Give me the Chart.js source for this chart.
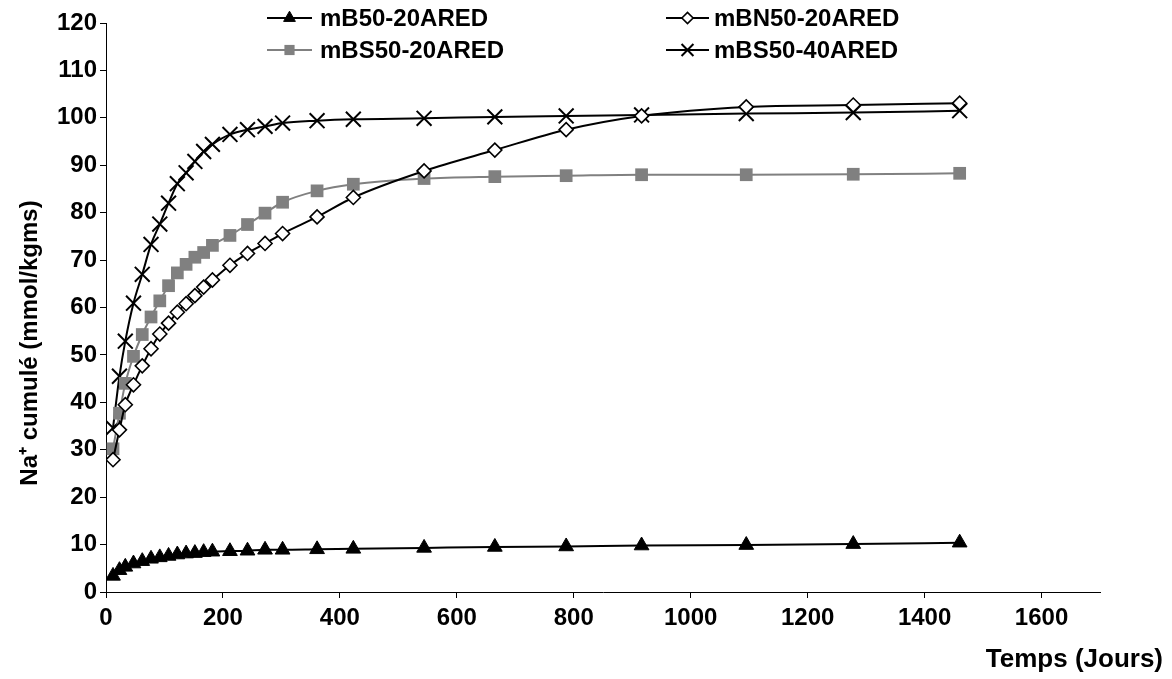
<!DOCTYPE html>
<html>
<head>
<meta charset="utf-8">
<script src="https://cdn.jsdelivr.net/npm/chart.js@4.4.1/dist/chart.umd.min.js"></script>
<style>
  html, body { margin: 0; padding: 0; background: #fff; }
  #wrap { width: 1172px; height: 679px; position: relative; }
</style>
</head>
<body>
<div id="wrap"><canvas id="canvas" width="1172" height="679"></canvas></div>
<script>
// temps (jours)
const jours = [12, 23, 33, 47, 62, 77, 92, 107, 122, 137, 152, 167, 182,
               212, 242, 272, 302, 361, 423, 544, 665, 787, 916, 1095, 1278, 1460];

// Na+ cumule (mmol/kgms)
const mB50_20 = [3.4, 4.6, 5.3, 6.0, 6.5, 7.0, 7.3, 7.6, 7.9, 8.1, 8.2, 8.4, 8.5,
                 8.6, 8.7, 8.9, 8.9, 9.0, 9.1, 9.3, 9.5, 9.6, 9.8, 9.9, 10.1, 10.4];
const mBN50_20 = [27.9, 34.2, 39.5, 43.7, 47.7, 51.3, 54.4, 56.7, 59.0, 60.8, 62.5, 64.3, 65.8,
                  68.9, 71.4, 73.5, 75.6, 79.1, 83.2, 88.8, 93.2, 97.5, 100.4, 102.3, 102.7, 103.1];
const mBS50_20 = [30.2, 37.7, 44.0, 49.7, 54.3, 58.0, 61.4, 64.6, 67.3, 69.1, 70.6, 71.6, 73.1,
                  75.2, 77.5, 79.9, 82.2, 84.6, 86.0, 87.2, 87.6, 87.8, 88.0, 88.0, 88.1, 88.3];
const mBS50_40 = [34.6, 45.5, 52.9, 60.9, 67.0, 73.3, 77.6, 82.0, 86.1, 88.4, 90.8, 92.9, 94.4,
                  96.5, 97.5, 98.2, 98.9, 99.4, 99.7, 99.9, 100.2, 100.4, 100.6, 100.9, 101.1, 101.5];

const noms = ["mB50-20ARED", "mBN50-20ARED", "mBS50-20ARED", "mBS50-40ARED"];

// graduations
const xTicks = [0, 200, 400, 600, 800, 1000, 1200, 1400, 1600];
const yTicks = [0, 10, 20, 30, 40, 50, 60, 70, 80, 90, 100, 110, 120];

function points(vals) {
    return vals.map((v, i) => ({x: jours[i], y: v}));
}

const FONT = "'Liberation Sans', Arial, sans-serif";
const GRIS = "#808080";

let datasets = [
    {label: noms[0], data: points(mB50_20), borderColor: "#000", backgroundColor: "#000",
     pointStyle: "triangle", pointRadius: 8.5, pointBorderWidth: 1},
    {label: noms[1], data: points(mBN50_20), borderColor: "#000", backgroundColor: "#fff",
     pointStyle: "rectRot", pointRadius: 7, pointBorderWidth: 1.6},
    {label: noms[2], data: points(mBS50_20), borderColor: GRIS, backgroundColor: GRIS,
     pointStyle: "rect", pointRadius: 9, pointBorderWidth: 0},
    {label: noms[3], data: points(mBS50_40), borderColor: "#000", backgroundColor: "#000",
     pointStyle: "crossRot", pointRadius: 10.5, pointBorderWidth: 2}
];
datasets.forEach(d => {
    d.borderWidth = 2;
    d.pointBackgroundColor = d.backgroundColor;
    d.pointBorderColor = d.pointStyle == "rect" ? GRIS : "#000";
    d.pointHoverRadius = d.pointRadius;
    d.cubicInterpolationMode = "monotone";
    d.fill = false;
});

// legende 2x2 et titres des axes dessines a la main
const decor = {
    id: "decor",
    afterDraw(chart) {
        const ctx = chart.ctx;
        ctx.save();
        const cols = [[267, 312, 320], [666, 709, 714]];
        const rows = [18, 50];
        chart.data.datasets.forEach((ds, i) => {
            const c = cols[i % 2];
            const y = rows[Math.floor(i / 2)];
            ctx.strokeStyle = ds.borderColor;
            ctx.lineWidth = 2;
            ctx.beginPath();
            ctx.moveTo(c[0], y);
            ctx.lineTo(c[1], y);
            ctx.stroke();
            ctx.fillStyle = ds.pointBackgroundColor;
            ctx.strokeStyle = ds.pointBorderColor;
            ctx.lineWidth = ds.pointBorderWidth;
            Chart.helpers.drawPoint(ctx, {pointStyle: ds.pointStyle, radius: ds.pointRadius * 0.8,
                                          borderWidth: ds.pointBorderWidth, rotation: 0},
                                    (c[0] + c[1]) / 2, y);
            ctx.fillStyle = "#000";
            ctx.font = "bold 24px " + FONT;
            ctx.textAlign = "left";
            ctx.textBaseline = "middle";
            ctx.fillText(ds.label, c[2], y + 1);
        });

        ctx.fillStyle = "#000";
        ctx.font = "bold 26px " + FONT;
        ctx.textAlign = "right";
        ctx.textBaseline = "middle";
        ctx.fillText("Temps (Jours)", 1163, 660);

        ctx.translate(30, 343);
        ctx.rotate(-Math.PI / 2);
        ctx.font = "bold 24px " + FONT;
        ctx.textAlign = "center";
        ctx.fillText("Na\u207A cumulé (mmol/kgms)", 0, 0);
        ctx.restore();
    }
};

let c = document.getElementById("canvas");
let chart = new Chart(c, {
    type: "line",
    data: {datasets: datasets},
    plugins: [decor],
    options: {
        responsive: false,
        animation: false,
        layout: {padding: {left: 0, top: 23, right: 72, bottom: 0}},
        plugins: {legend: {display: false}, tooltip: {enabled: false}},
        scales: {
            x: {
                type: "linear",
                min: 0, max: 1700,
                afterBuildTicks: (s) => { s.ticks = xTicks.map(v => ({value: v})); },
                afterFit: (s) => { s.height = 87; },
                ticks: {color: "#000", padding: 6, autoSkip: false,
                        callback: (v) => String(v),
                        font: {family: FONT, size: 24, weight: "bold"}},
                grid: {drawOnChartArea: false, drawTicks: true, tickLength: 6, color: "#000"},
                border: {display: true, color: "#000", width: 1}
            },
            y: {
                min: 0, max: 120,
                afterBuildTicks: (s) => { s.ticks = yTicks.map(v => ({value: v})); },
                afterFit: (s) => { s.width = 106; },
                ticks: {color: "#000", padding: 3, autoSkip: false,
                        callback: (v) => String(v),
                        font: {family: FONT, size: 24, weight: "bold"}},
                grid: {drawOnChartArea: false, drawTicks: true, tickLength: 6, color: "#000"},
                border: {display: true, color: "#000", width: 1}
            }
        }
    }
});
</script>
</body>
</html>
